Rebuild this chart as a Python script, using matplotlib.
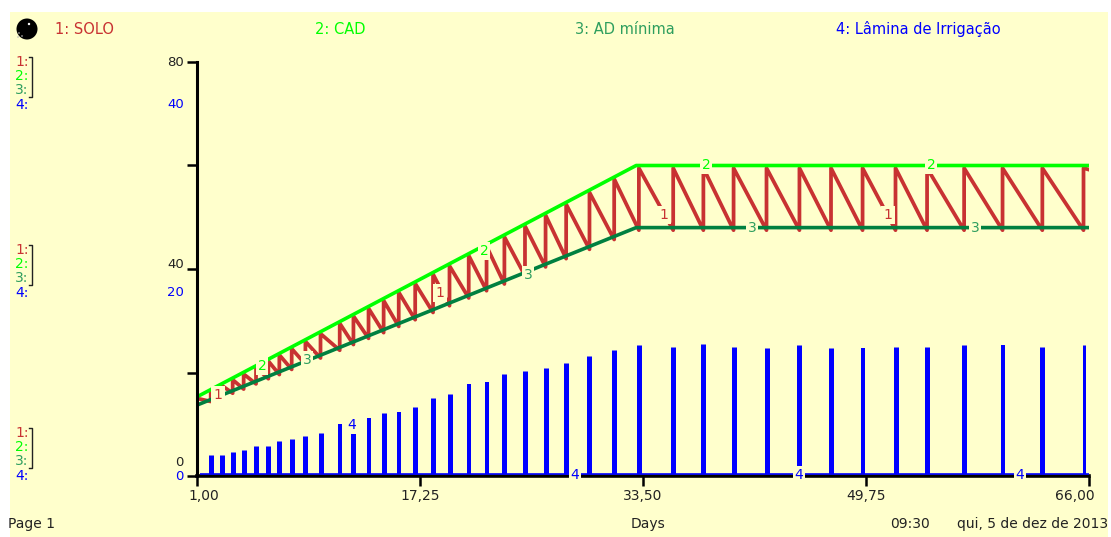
import matplotlib
matplotlib.use('Agg')
import matplotlib.pyplot as plt
import matplotlib.transforms as mtrans
from matplotlib.patches import Rectangle, Circle
import numpy as np

W, H = 1111, 537

BG = '#FFFFCC'
RED = '#C83232'
LIME = '#00FF00'
DGREEN = '#008040'
LABEL_GREEN = '#2E9E5E'
BLUE = '#0000FF'

# irrigation days
days = [2.0, 2.8, 3.6, 4.4, 5.3, 6.2, 7.0, 7.9, 8.9, 10.0,
        11.4, 12.4, 13.5, 14.6, 15.7, 16.9, 18.2, 19.4, 20.8, 22.1,
        23.4, 24.9, 26.4, 27.9, 29.6, 31.4, 33.2, 35.7, 37.9, 40.1,
        42.5, 44.9, 47.2, 49.5, 51.9, 54.2, 56.9, 59.7, 62.6, 65.6]

# depth applied (right hand scale 0-40)
lamina = [2.0, 2.0, 2.3, 2.5, 2.9, 2.9, 3.4, 3.6, 3.9, 4.2,
          5.0, 5.1, 5.6, 6.1, 6.2, 6.7, 7.5, 7.9, 8.9, 9.1,
          9.9, 10.1, 10.4, 10.9, 11.6, 12.2, 12.7, 12.5, 12.8, 12.5,
          12.4, 12.7, 12.4, 12.4, 12.5, 12.5, 12.7, 12.7, 12.5, 12.7]

# SOLO just before and just after each irrigation
solo_low = [14.4, 15.2, 16.0, 16.8, 17.8, 18.8, 19.6, 20.6, 21.6, 22.8,
            24.3, 25.4, 26.6, 27.7, 28.9, 30.2, 31.6, 32.9, 34.4, 35.8,
            37.1, 38.7, 40.4, 42.0, 43.8, 45.7, 47.5, 47.5, 47.5, 47.5,
            47.5, 47.5, 47.5, 47.5, 47.5, 47.5, 47.5, 47.5, 47.5, 47.5]
solo_peak = [16.4, 17.5, 18.6, 19.7, 21.0, 22.2, 23.4, 24.6, 26.0, 27.5,
             29.5, 30.9, 32.4, 33.9, 35.5, 37.2, 39.0, 40.6, 42.6, 44.4,
             46.2, 48.3, 50.4, 52.5, 54.8, 57.4, 59.5, 59.5, 59.5, 59.5,
             59.5, 59.5, 59.5, 59.5, 59.5, 59.5, 59.5, 59.5, 59.5, 59.5]

cad_days = [1, 33, 66]
cad = [15.3, 60, 60]
ad_days = [1, 33, 66]
ad_min = [13.7, 48, 48]

x_ticks = [1, 17.25, 33.5, 49.75, 66]
x_labels = ['1,00', '17,25', '33,50', '49,75', '66,00']
y_ticks = [0, 20, 40, 60, 80]

# bar widths in px, they vary with how the screen rounded them
bar_px = [5, 5, 5, 5, 5, 5, 5, 5, 5, 5,
          4, 5, 4, 5, 4, 5, 5, 5, 4, 4,
          5, 5, 5, 5, 5, 5, 5, 5, 5, 5,
          5, 5, 5, 4, 5, 5, 5, 4, 5, 3]

fig = plt.figure(figsize=(W / 100, H / 100), dpi=100, facecolor='white')
plt.rcParams['font.family'] = ['DejaVu Sans']

bg = fig.add_axes([0, 0, 1, 1], zorder=0)
bg.set_xlim(0, W)
bg.set_ylim(H, 0)
bg.axis('off')
bg.add_patch(Rectangle((10, 12), 1098, 525, facecolor=BG, edgecolor='none'))

ax = fig.add_axes([197 / W, 1 - 476 / H, 892 / W, 414 / H], zorder=1)
ax.patch.set_visible(False)
ax.set_xlim(1, 66)
ax.set_ylim(0, 80)

solo_x = [1.0]
solo_y = [15.0]
for d, lo, pk in zip(days, solo_low, solo_peak):
    solo_x += [d, d]
    solo_y += [lo, pk]
solo_x.append(66)
solo_y.append(59.2)
ax.plot(solo_x, solo_y, color=RED, lw=2.7, solid_joinstyle='round', zorder=1.5)

ax.plot(cad_days, cad, color=LIME, lw=2.6, solid_capstyle='butt', zorder=2)
ax.plot(ad_days, ad_min, color=DGREEN, lw=2.6, solid_capstyle='butt', zorder=2)

for s in ['top', 'right']:
    ax.spines[s].set_visible(False)
ax.spines['left'].set_linewidth(2.2)
ax.spines['bottom'].set_linewidth(2.6)
ax.set_yticks(y_ticks, [''] * len(y_ticks))
ax.set_xticks(x_ticks, x_labels, fontsize=10, color='#222222')
ax.tick_params(axis='y', length=7.5, width=1.8)
ax.tick_params(axis='x', length=7, width=1.8, pad=2)

xl = ax.get_xticklabels()
xl[0].set_transform(xl[0].get_transform() + mtrans.ScaledTranslation(7 / 100, 0, fig.dpi_scale_trans))
xl[-1].set_transform(xl[-1].get_transform() + mtrans.ScaledTranslation(-14 / 100, 0, fig.dpi_scale_trans))

bx = ax.twinx()
bx.set_ylim(0, 40)
bx.patch.set_visible(False)
bx.axis('off')
bx.vlines(days, 0.2, lamina, color=BLUE, lw=[p * 0.72 for p in bar_px])
bx.hlines(0.24, 1.2, 66, color=BLUE, lw=1.2)

top = fig.add_axes([0, 0, 1, 1], zorder=5)
top.set_xlim(0, W)
top.set_ylim(H, 0)
top.axis('off')
top.patch.set_visible(False)


def txt(x, y, s, c='#222222', ha='left', fs=10, box=False):
    kw = {}
    if box:
        kw['bbox'] = dict(facecolor=BG, edgecolor='none', pad=1.5)
    top.text(x, y, s, color=c, ha=ha, va='center', fontsize=fs, **kw)


# header
top.add_patch(Circle((27, 29), 10.5, facecolor='black', edgecolor='none'))
top.add_patch(Circle((29, 24), 1.2, facecolor='white', edgecolor='none'))
for dx, dy in [(19, 33), (22, 36), (18, 37)]:
    top.add_patch(Circle((dx, dy), 0.8, facecolor='#bbbbbb', edgecolor='none'))
txt(55, 29, '1: SOLO', RED, fs=10.5)
txt(315, 29, '2: CAD', LIME, fs=10.5)
txt(575, 29, '3: AD mínima', LABEL_GREEN, fs=10.5)
txt(836, 29, '4: Lâmina de Irrigação', BLUE, fs=10.5)

# left legend blocks
for y0 in [62, 250, 433]:
    txt(15, y0, '1:', RED)
    txt(15, y0 + 14, '2:', LIME)
    txt(15, y0 + 28, '3:', LABEL_GREEN)
    txt(15, y0 + 43, '4:', BLUE)
    top.plot([29, 32, 32, 29], [y0 - 5, y0 - 5, y0 + 35, y0 + 35], color='#222222', lw=1)

# scale labels beside the axis
txt(184, 62, '80', ha='right', fs=9.5)
txt(184, 105, '40', BLUE, ha='right', fs=9.5)
txt(184, 264, '40', ha='right', fs=9.5)
txt(184, 292, '20', BLUE, ha='right', fs=9.5)
txt(184, 462, '0', ha='right', fs=9.5)
txt(184, 476, '0', BLUE, ha='right', fs=9.5)

# curve number labels
for x, y in [(218, 395), (440, 293), (664, 215), (888, 215)]:
    txt(x, y, '1', RED, ha='center', box=True)
for x, y in [(262, 366), (484, 251), (706, 165), (931, 165)]:
    txt(x, y, '2', LIME, ha='center', box=True)
for x, y in [(307, 360), (528, 275), (752, 228), (975, 228)]:
    txt(x, y, '3', LABEL_GREEN, ha='center', box=True)
for x, y in [(352, 425), (575, 475), (799, 475), (1020, 475)]:
    txt(x, y, '4', BLUE, ha='center', box=True)

# footer
txt(8, 524, 'Page 1')
txt(648, 524, 'Days', ha='center')
txt(910, 524, '09:30', ha='center')
txt(1108, 524, 'qui, 5 de dez de 2013', ha='right')

fig.savefig('out.png', dpi=100)
